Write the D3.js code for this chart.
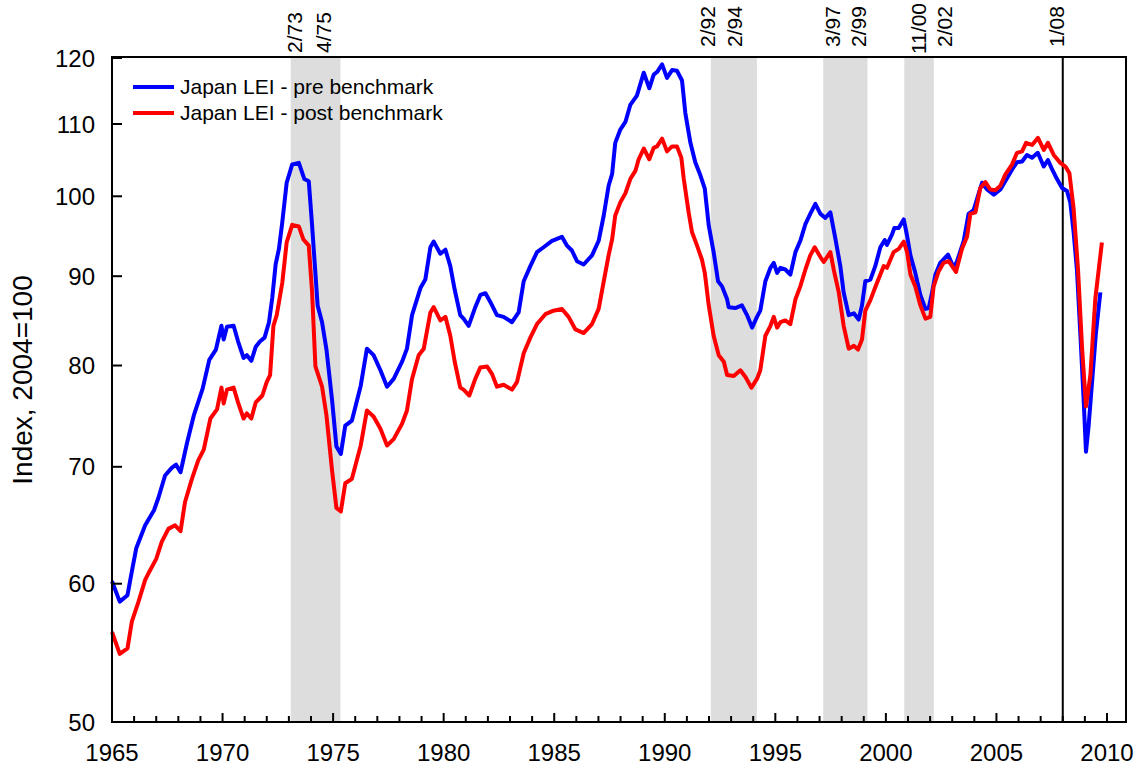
<!DOCTYPE html>
<html><head><meta charset="utf-8">
<script src="https://cdn.jsdelivr.net/npm/d3@7"></script>
<style>
body{margin:0;background:#fff}
svg text{font-family:"Liberation Sans",Arial,sans-serif;fill:#000}
</style>
</head><body>
<svg id="chart" width="1140" height="769"></svg>
<script>
// ---------------- DATA ----------------
const seriesNames = ["Japan LEI - pre benchmark", "Japan LEI - post benchmark"];
const seriesColors = ["#0000ff", "#ff0000"];

const preYears = [1965.0,1965.35,1965.7,1965.9,1966.1,1966.5,1966.9,1967.1,1967.4,1967.7,1967.9,1968.1,1968.4,1968.7,1969.1,1969.4,1969.7,1969.95,1970.05,1970.2,1970.5,1970.7,1970.95,1971.1,1971.3,1971.5,1971.7,1971.9,1972.1,1972.25,1972.4,1972.55,1972.7,1972.9,1973.15,1973.45,1973.7,1973.9,1974.05,1974.3,1974.5,1974.7,1974.95,1975.15,1975.35,1975.55,1975.85,1976.25,1976.53,1976.83,1977.14,1977.44,1977.74,1978.12,1978.34,1978.57,1978.95,1979.17,1979.4,1979.55,1979.85,1980.08,1980.3,1980.5,1980.75,1980.9,1981.13,1981.43,1981.66,1981.89,1982.11,1982.41,1982.71,1983.09,1983.39,1983.62,1983.92,1984.22,1984.52,1984.9,1985.35,1985.58,1985.8,1986.03,1986.33,1986.71,1987.01,1987.24,1987.46,1987.62,1987.76,1987.99,1988.22,1988.44,1988.74,1989.05,1989.3,1989.5,1989.65,1989.88,1990.1,1990.33,1990.55,1990.78,1990.93,1991.16,1991.38,1991.61,1991.81,1991.99,1992.21,1992.41,1992.59,1992.82,1992.89,1993.19,1993.49,1993.72,1993.95,1994.17,1994.32,1994.55,1994.78,1994.93,1995.08,1995.23,1995.45,1995.68,1995.91,1996.13,1996.36,1996.58,1996.81,1997.04,1997.26,1997.49,1997.72,1997.94,1998.09,1998.32,1998.55,1998.77,1998.92,1999.07,1999.3,1999.52,1999.75,1999.95,2000.05,2000.28,2000.38,2000.58,2000.81,2000.96,2001.11,2001.33,2001.56,2001.79,2001.94,2002.09,2002.24,2002.46,2002.81,2003.07,2003.22,2003.52,2003.74,2003.97,2004.2,2004.35,2004.58,2004.88,2005.18,2005.4,2005.71,2005.93,2006.16,2006.38,2006.61,2006.87,2007.14,2007.33,2007.52,2007.74,2007.97,2008.19,2008.34,2008.49,2008.64,2008.8,2008.95,2009.05,2009.17,2009.35,2009.5,2009.7];
const preValues = [60.2,58.6,59.1,61.0,62.9,64.8,66.1,67.2,69.2,69.9,70.2,69.5,72.3,74.9,77.6,80.6,81.7,84.3,82.8,84.2,84.3,82.6,80.8,81.1,80.5,82.0,82.6,83.0,84.7,87.5,91.4,93.3,96.6,101.8,104.3,104.5,102.3,102.0,96.2,86.6,84.7,81.7,76.5,71.9,71.2,73.9,74.4,77.9,81.8,81.1,79.5,77.8,78.6,80.4,81.8,85.5,88.6,89.6,93.5,94.2,92.7,93.2,91.2,88.4,85.5,85.1,84.3,86.4,87.8,88.0,87.0,85.5,85.3,84.7,85.8,89.4,91.2,92.9,93.5,94.3,94.8,93.7,93.1,91.8,91.4,92.5,94.3,97.5,101.4,103.0,107.3,109.2,110.3,112.8,114.2,117.7,115.3,117.4,117.8,119.0,116.9,118.1,118.0,116.5,111.6,107.3,104.6,102.8,101.0,96.2,92.9,89.4,88.8,87.3,86.4,86.3,86.6,85.5,84.1,85.3,86.0,89.4,91.0,91.6,90.4,91.0,90.8,90.2,92.9,94.3,96.4,97.7,99.0,97.7,97.2,97.9,94.5,91.2,88.1,85.5,85.7,85.0,86.6,89.4,89.6,91.2,93.5,94.4,93.8,95.1,95.9,95.9,97.0,94.9,92.5,90.4,87.8,86.2,86.3,88.1,90.2,91.6,92.6,91.0,91.8,94.3,97.7,98.2,100.4,101.8,100.9,100.2,100.9,102.0,103.6,104.6,104.7,105.6,105.2,105.9,104.0,104.9,103.6,102.3,101.1,100.7,99.2,95.4,90.8,83.2,76.2,71.4,73.9,79.0,83.5,88.1];

const postYears = [1965.0,1965.35,1965.7,1965.9,1966.2,1966.5,1966.7,1967.0,1967.25,1967.55,1967.85,1968.1,1968.3,1968.6,1968.9,1969.15,1969.45,1969.75,1969.95,1970.05,1970.2,1970.5,1970.7,1970.95,1971.1,1971.3,1971.5,1971.8,1972.0,1972.15,1972.3,1972.45,1972.7,1972.9,1973.15,1973.45,1973.65,1973.9,1974.05,1974.2,1974.5,1974.7,1974.95,1975.15,1975.35,1975.55,1975.85,1976.25,1976.53,1976.83,1977.14,1977.44,1977.74,1978.12,1978.34,1978.57,1978.87,1979.1,1979.4,1979.55,1979.85,1980.08,1980.3,1980.5,1980.75,1980.9,1981.16,1981.43,1981.66,1981.96,1982.19,1982.41,1982.71,1983.09,1983.32,1983.62,1983.92,1984.22,1984.6,1984.97,1985.35,1985.65,1985.96,1986.33,1986.71,1987.01,1987.24,1987.46,1987.62,1987.76,1987.99,1988.22,1988.44,1988.67,1988.82,1989.05,1989.3,1989.5,1989.65,1989.88,1990.1,1990.33,1990.55,1990.75,1990.86,1991.08,1991.23,1991.46,1991.68,1991.81,1991.99,1992.21,1992.44,1992.67,1992.82,1993.12,1993.42,1993.65,1993.92,1994.17,1994.32,1994.55,1994.78,1994.93,1995.08,1995.23,1995.45,1995.68,1995.91,1996.13,1996.36,1996.58,1996.78,1997.04,1997.19,1997.49,1997.64,1997.87,1998.09,1998.32,1998.55,1998.74,1998.92,1999.07,1999.3,1999.52,1999.75,1999.9,2000.05,2000.35,2000.58,2000.81,2000.96,2001.11,2001.33,2001.56,2001.79,2002.01,2002.16,2002.39,2002.61,2002.84,2003.17,2003.44,2003.67,2003.82,2004.05,2004.27,2004.5,2004.72,2004.95,2005.18,2005.4,2005.71,2005.93,2006.16,2006.34,2006.61,2006.88,2007.14,2007.33,2007.59,2007.89,2008.12,2008.3,2008.49,2008.69,2008.87,2009.05,2009.25,2009.47,2009.77];
const postValues = [56.3,54.7,55.1,57.1,58.6,60.3,61.0,62.0,63.4,64.5,64.8,64.3,66.8,68.8,70.6,71.6,74.6,75.5,77.7,76.1,77.5,77.7,76.2,74.6,75.1,74.6,76.2,76.9,78.3,79.0,84.3,85.5,89.2,94.1,96.3,96.1,94.5,93.7,88.1,79.9,77.8,74.9,69.7,66.3,66.0,68.5,68.9,72.0,75.4,74.8,73.6,72.0,72.6,74.1,75.4,78.6,81.1,81.8,85.8,86.4,84.9,85.3,83.2,80.4,77.7,77.5,76.9,78.6,79.8,79.9,79.1,77.8,78.0,77.5,78.3,81.3,83.0,84.5,85.6,86.0,86.2,85.3,83.9,83.5,84.5,86.2,89.4,92.5,94.5,97.5,99.2,100.4,102.3,103.4,105.0,106.5,105.0,106.6,106.8,107.9,106.1,106.8,106.8,105.2,102.3,97.9,95.4,93.7,92.0,90.4,86.6,83.2,81.1,80.4,79.0,78.9,79.5,78.8,77.7,78.6,79.5,83.2,84.3,85.3,84.1,84.7,84.9,84.5,87.3,88.8,90.8,92.5,93.5,92.3,91.7,92.9,90.8,88.1,84.3,81.8,82.1,81.7,82.8,86.0,87.2,88.7,90.2,91.2,91.0,92.9,93.3,94.2,92.9,90.2,88.8,86.6,85.1,85.3,88.8,90.6,91.6,91.8,90.5,93.3,94.8,97.7,97.9,101.1,101.9,100.9,100.8,101.4,102.9,104.3,105.9,106.1,107.3,107.0,108.0,106.3,107.3,105.6,104.5,104.0,103.1,98.4,90.8,82.0,75.8,79.0,87.3,94.1];

const yTickValues = [50, 60, 70, 80, 90, 100, 110, 120];
const xTickLabels = [1965, 1970, 1975, 1980, 1985, 1990, 1995, 2000, 2005, 2010];
const recessionStarts = ["2/73", "2/92", "3/97", "11/00"];
const recessionEnds   = ["4/75", "2/94", "2/99", "2/02"];
const markerLine = "1/08";
const yTitle = "Index, 2004=100";

// ---------------- LAYOUT ----------------
const M = {left: 112, right: 1126, top: 58, bottom: 722};
const startNudge = [4, -3, 9, 14];
const endNudge = [-17, -22, -9, 11];
const markerNudge = -6;
const startBottom = [53, 47, 47, 54];
const endBottom = [53, 47, 47, 47];

const svg = d3.select("#chart");
const x = d3.scaleLinear().domain([1965, 2010.86]).range([M.left, M.right]);
const y = d3.scaleLog().domain([50, 120]).range([M.bottom, M.top]);

const parseMY = s => { const [m, yy] = s.split("/").map(Number); const yr = yy < 50 ? 2000 + yy : 1900 + yy; return {yr, m}; };
const startDec = s => { const p = parseMY(s); return p.yr + (p.m - 1) / 12; };
const endDec = s => { const p = parseMY(s); return p.yr + p.m / 12; };

// recession shading
const rec = recessionStarts.map((s, i) => ({s, e: recessionEnds[i], i}));
svg.append("g").selectAll("rect").data(rec).join("rect")
  .attr("x", d => x(startDec(d.s)))
  .attr("width", d => x(endDec(d.e)) - x(startDec(d.s)))
  .attr("y", M.top - 1).attr("height", M.bottom - M.top + 1)
  .attr("fill", "#dddddd");

// marker vertical line
svg.append("line")
  .attr("x1", x(startDec(markerLine))).attr("x2", x(startDec(markerLine)))
  .attr("y1", M.top - 1).attr("y2", M.bottom)
  .attr("stroke", "#000").attr("stroke-width", 2);

// rotated labels
const lblG = svg.append("g").style("font-size", "21px");
const addLbl = (txt, px, bottom) => lblG.append("text")
  .attr("transform", `translate(${px},${bottom}) rotate(-90)`)
  .attr("dy", "0.35em").attr("text-anchor", "start").text(txt);
rec.forEach(d => {
  addLbl(d.s, x(startDec(d.s)) + startNudge[d.i], startBottom[d.i]);
  addLbl(d.e, x(endDec(d.e)) + endNudge[d.i], endBottom[d.i]);
});
addLbl(markerLine, x(startDec(markerLine)) + markerNudge, 47);

// lines
const line = d3.line().x(d => x(d[0])).y(d => y(d[1]));
const series = [d3.zip(preYears, preValues), d3.zip(postYears, postValues)];
svg.append("g").selectAll("path").data(series).join("path")
  .attr("d", line).attr("fill", "none")
  .attr("stroke", (d, i) => seriesColors[i]).attr("stroke-width", 4)
  .attr("stroke-linejoin", "round");

// frame
svg.append("rect").attr("x", M.left).attr("y", M.top - 1)
  .attr("width", M.right - M.left).attr("height", M.bottom - M.top + 1)
  .attr("fill", "none").attr("stroke", "#000").attr("stroke-width", 2);

// y axis
const yAx = svg.append("g").style("font-size", "24px");
yTickValues.forEach(v => {
  yAx.append("line").attr("x1", M.left).attr("x2", M.left + 10)
    .attr("y1", y(v)).attr("y2", y(v)).attr("stroke", "#000").attr("stroke-width", 2);
  yAx.append("text").attr("x", M.left - 17).attr("y", y(v)).attr("dy", "0.36em")
    .attr("text-anchor", "end").text(v);
});

// x axis
const xAx = svg.append("g").style("font-size", "24px");
d3.range(1965, 2011).forEach(yr => {
  const major = yr % 5 === 0;
  xAx.append("line").attr("x1", x(yr)).attr("x2", x(yr))
    .attr("y1", M.bottom).attr("y2", M.bottom - (major ? 9 : 6))
    .attr("stroke", "#000").attr("stroke-width", 2);
});
xTickLabels.forEach(yr => {
  xAx.append("text").attr("x", x(yr)).attr("y", M.bottom + 39)
    .attr("text-anchor", "middle").text(yr);
});

// y title
svg.append("text").attr("transform", `translate(22,${(M.top + M.bottom) / 2 - 10}) rotate(-90)`)
  .attr("dy", "0.35em").attr("text-anchor", "middle").style("font-size", "28px").text(yTitle);

// legend
const lg = svg.append("g").style("font-size", "21px");
seriesNames.forEach((n, i) => {
  const ly = 87 + i * 26;
  lg.append("line").attr("x1", 133).attr("x2", 174).attr("y1", ly).attr("y2", ly)
    .attr("stroke", seriesColors[i]).attr("stroke-width", 4);
  lg.append("text").attr("x", 180).attr("y", ly).attr("dy", "0.35em").text(n);
});
</script>
</body></html>
